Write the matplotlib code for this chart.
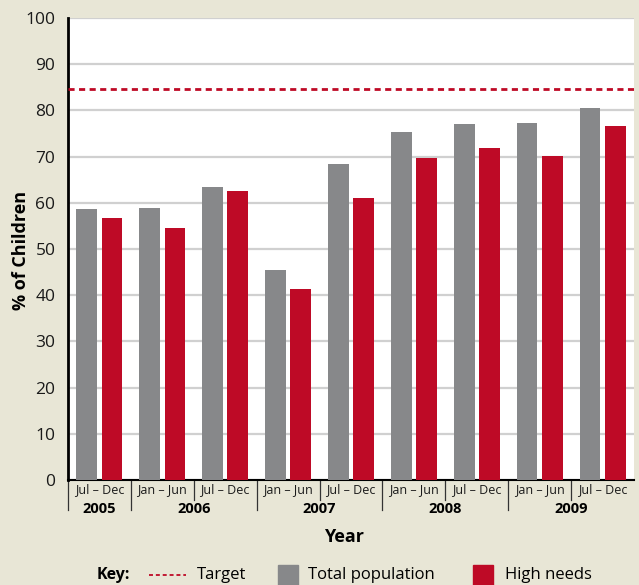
import matplotlib
matplotlib.use("Agg")
import matplotlib.pyplot as plt
import numpy as np
from matplotlib.transforms import blended_transform_factory
from matplotlib.patches import Rectangle
from matplotlib.lines import Line2D

plt.rcParams['font.family'] = ['Open Sans', 'DejaVu Sans']

# data
periods = ['Jul – Dec', 'Jan – Jun', 'Jul – Dec', 'Jan – Jun', 'Jul – Dec',
           'Jan – Jun', 'Jul – Dec', 'Jan – Jun', 'Jul – Dec']
years = ['2005', '2006', '2007', '2008', '2009']
year_spans = [(0, 0), (1, 2), (3, 4), (5, 6), (7, 8)]
total_pop = [58.7, 58.9, 63.4, 45.5, 68.4, 75.3, 77.1, 77.3, 80.5]
high_needs = [56.7, 54.5, 62.6, 41.3, 61.0, 69.7, 71.9, 70.1, 76.6]
target = 84.6

bg = '#E8E6D6'
grey = '#87888A'
red = '#BE0A26'

W, H = 639, 585
fig = plt.figure(figsize=(W / 100, H / 100), dpi=100, facecolor=bg)
left, right, top, bottom = 68, 634, 18, 480
ax = fig.add_axes([left / W, 1 - bottom / H, (right - left) / W, (bottom - top) / H])
ax.set_facecolor('white')
axh = bottom - top

x = np.arange(len(periods))
bw = 0.33
ax.bar(x - 0.2, total_pop, width=bw, color=grey, zorder=3)
ax.bar(x + 0.2, high_needs, width=bw, color=red, zorder=3)
ax.axhline(target, color=red, linestyle=(0, (2.2, 1.6)), linewidth=2, zorder=4)

ax.set_xlim(-0.5, len(periods) - 0.5)
ax.set_ylim(0, 100)
ax.set_yticks(range(0, 101, 10))
ax.tick_params(axis='y', length=0, labelsize=12.5, pad=9, colors='#1a1a1a')
ax.set_xticks([])
ax.yaxis.grid(True, color='#D0D0D0', linewidth=1.6, zorder=0)
for s in ['top', 'right']:
    ax.spines[s].set_visible(False)
ax.spines['left'].set_linewidth(2)
ax.spines['bottom'].set_linewidth(1.5)

tr = blended_transform_factory(ax.transData, ax.transAxes)

def py(px):
    return -px / axh

# period labels and separators
for i, p in enumerate(periods):
    ax.text(i, py(10), p, transform=tr, ha='center', va='center', fontsize=9,
            color='#1a1a1a', clip_on=False)
year_starts = [s for s, e in year_spans]
for b in range(len(periods)):
    length = 30 if b in year_starts else 20
    ax.plot([b - 0.5, b - 0.5], [0, py(length)], transform=tr, color='#333333',
            linewidth=0.9, clip_on=False)
for yr, (s, e) in zip(years, year_spans):
    ax.text((s + e) / 2, py(29), yr, transform=tr, ha='center', va='center',
            fontsize=10.5, fontweight='bold', clip_on=False)

ax.text(0.487, py(57), 'Year', transform=ax.transAxes, ha='center', va='center',
        fontsize=13, fontweight='bold')
fig.text(21 / W, 1 - 250 / H, '% of Children', rotation=90, ha='center', va='center',
         fontsize=13, fontweight='bold')

# key
ky = 1 - 575 / H
fig.text(97 / W, ky, 'Key:', ha='left', va='center', fontsize=11.5, fontweight='bold')
fig.add_artist(Line2D([149 / W, 186 / W], [ky, ky], color=red, linestyle=(0, (2.2, 1.6)),
                      linewidth=1.3))
fig.text(197 / W, ky, 'Target', ha='left', va='center', fontsize=12)
fig.add_artist(Rectangle((278 / W, ky - 10 / H), 20 / W, 20 / H, color=grey,
                         transform=fig.transFigure))
fig.text(308 / W, ky, 'Total population', ha='left', va='center', fontsize=12)
fig.add_artist(Rectangle((473 / W, ky - 10 / H), 20 / W, 20 / H, color=red,
                         transform=fig.transFigure))
fig.text(505 / W, ky, 'High needs', ha='left', va='center', fontsize=12)

fig.savefig('out.png', dpi=100, facecolor=bg)
